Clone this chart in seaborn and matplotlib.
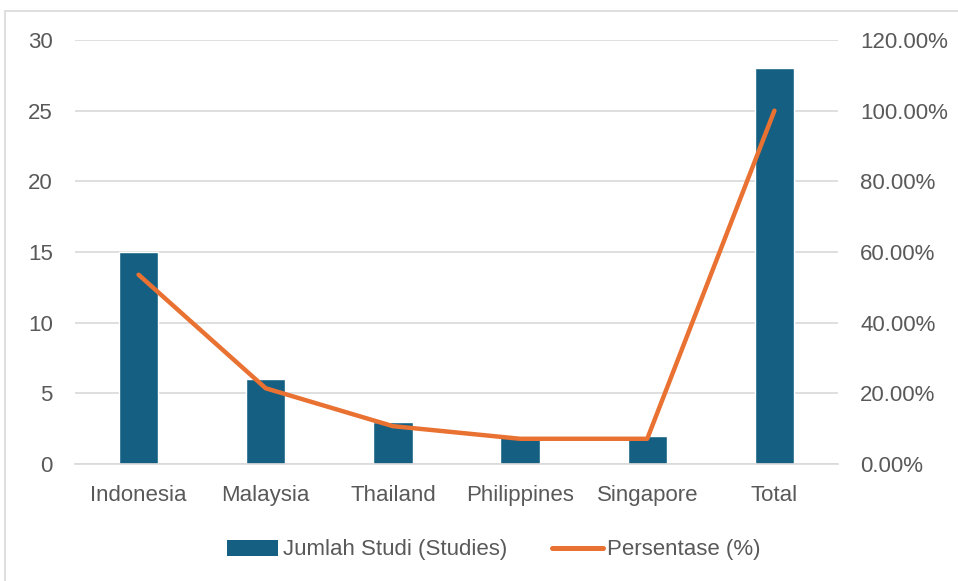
import matplotlib
matplotlib.use("Agg")
import matplotlib.pyplot as plt
import seaborn as sns
import pandas as pd
from matplotlib.patches import Patch, Rectangle
from matplotlib.lines import Line2D
from matplotlib.ticker import FuncFormatter, MultipleLocator

countries = ["Indonesia", "Malaysia", "Thailand", "Philippines", "Singapore", "Total"]
studies = [15, 6, 3, 2, 2, 28]
percent = [53.57, 21.43, 10.71, 7.14, 7.14, 100.0]

bar_color = "#156082"
line_color = "#E97132"
text_color = "#595959"
grid_color = "#D9D9D9"

sns.set_theme(style="white")
plt.rcParams["font.family"] = ["Liberation Sans", "DejaVu Sans"]

df = pd.DataFrame({"country": countries, "studies": studies, "percent": percent})

fig = plt.figure(figsize=(9.58, 5.81), dpi=100)
ax = fig.add_axes([75 / 958, 1 - 464 / 581, (838 - 75) / 958, (464 - 40) / 581])

sns.barplot(data=df, x="country", y="studies", color=bar_color, width=0.31,
            saturation=1, ax=ax, zorder=2)
ax.set_xlim(-0.5, len(countries) - 0.5)
ax.set_ylim(0, 30)
ax.yaxis.set_major_locator(MultipleLocator(5))
ax.grid(axis="y", color=grid_color, linewidth=1.2, zorder=0)
ax.set_axisbelow(True)
ax.set_xlabel("")
ax.set_ylabel("")
for s in ["top", "left", "right"]:
    ax.spines[s].set_visible(False)
ax.spines["bottom"].set_color(grid_color)
ax.spines["bottom"].set_linewidth(1.2)
ax.tick_params(axis="y", length=0, pad=16, labelsize=16, labelcolor=text_color)
ax.tick_params(axis="x", length=0, pad=15, labelsize=16, labelcolor=text_color)

ax2 = ax.twinx()
sns.lineplot(x=list(range(len(countries))), y=df["percent"], color=line_color,
             linewidth=3.2, ax=ax2, sort=False, zorder=3, solid_capstyle="round")
ax2.set_ylim(0, 120)
ax2.yaxis.set_major_locator(MultipleLocator(20))
ax2.yaxis.set_major_formatter(FuncFormatter(lambda v, p: f"{v:.2f}%"))
ax2.set_ylabel("")
for s in ["top", "left", "right", "bottom"]:
    ax2.spines[s].set_visible(False)
ax2.tick_params(axis="y", length=0, pad=16, labelsize=16, labelcolor=text_color)
ax.set_xlim(-0.5, len(countries) - 0.5)

handles = [Patch(facecolor=bar_color, edgecolor="none"),
           Line2D([0], [0], color=line_color, linewidth=3.6, solid_capstyle="round")]
labels = ["Jumlah Studi (Studies)", "Persentase (%)"]
fig.legend(handles, labels, loc="center", bbox_to_anchor=(494 / 958, 1 - 550 / 581),
           ncol=2, frameon=False, fontsize=16, labelcolor=text_color,
           handlelength=2.3, handleheight=0.75, handletextpad=0.2, columnspacing=2.0)

fig.patches.append(Rectangle((5 / 958, -0.1), 1.2, 1 - 11 / 581 + 0.1,
                             transform=fig.transFigure, fill=False,
                             edgecolor=grid_color, linewidth=1.2))

fig.savefig("out.png", dpi=100)
